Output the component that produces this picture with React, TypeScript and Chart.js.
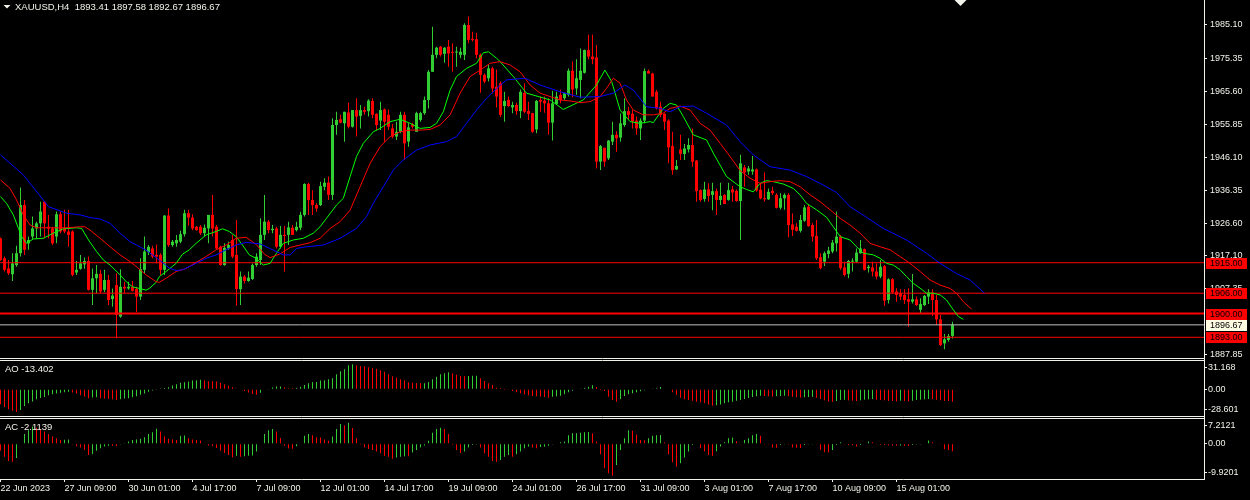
import React, { useEffect, useRef } from "react";
import { Chart, registerables } from "chart.js";

Chart.register(...registerables);

// ---------------- data ----------------
const OPEN = [
  1922.2, 1916.3, 1913.3, 1911.6, 1914.3, 1917.8, 1932.0, 1920.7, 1922.7, 1925.1,
  1926.6, 1933.0, 1925.6, 1925.1, 1922.7, 1929.3, 1925.1, 1924.2, 1924.2, 1912.1,
  1913.2, 1914.5, 1915.5, 1907.0, 1910.4, 1911.7, 1907.0, 1909.9, 1904.3, 1908.4,
  1899.1, 1907.9, 1907.4, 1907.9, 1907.3, 1905.0, 1912.9, 1918.1, 1919.2, 1917.3,
  1917.3, 1912.9, 1928.9, 1920.2, 1920.7, 1921.2, 1923.4, 1929.6, 1928.3, 1925.6,
  1925.6, 1923.7, 1925.1, 1929.1, 1925.6, 1919.7, 1914.3, 1919.2, 1921.7, 1917.3,
  1907.2, 1910.9, 1909.6, 1910.2, 1914.3, 1915.8, 1923.2, 1927.1, 1924.6, 1925.1,
  1919.7, 1923.2, 1923.2, 1925.3, 1924.6, 1925.3, 1929.1, 1938.2, 1933.5, 1932.0,
  1932.0, 1937.4, 1938.6, 1935.0, 1955.6, 1957.3, 1956.1, 1959.3, 1955.1, 1960.0,
  1958.3, 1960.0, 1959.7, 1962.7, 1958.9, 1956.9, 1960.2, 1958.6, 1954.6, 1952.2,
  1953.6, 1958.6, 1950.7, 1955.8, 1953.6, 1957.1, 1959.1, 1963.0, 1971.3, 1976.3,
  1978.7, 1976.6, 1978.7, 1977.2, 1977.0, 1976.3, 1976.3, 1985.1, 1980.9, 1980.9,
  1976.3, 1970.4, 1969.4, 1972.3, 1966.9, 1967.9, 1961.2, 1963.0, 1960.8, 1961.5,
  1959.7, 1965.1, 1959.7, 1959.1, 1954.3, 1963.0, 1962.8, 1962.0, 1956.3, 1961.8,
  1964.5, 1963.5, 1964.5, 1971.6, 1966.4, 1968.9, 1971.0, 1977.7, 1975.8, 1975.5,
  1944.8, 1948.9, 1945.8, 1950.7, 1952.7, 1951.9, 1955.6, 1959.7, 1958.9, 1956.9,
  1954.6, 1956.9, 1971.5, 1970.8, 1965.4, 1961.0, 1958.9, 1956.9, 1949.4, 1942.5,
  1948.4, 1947.1, 1948.4, 1949.7, 1945.1, 1936.4, 1933.8, 1936.6, 1935.0, 1936.1,
  1933.5, 1935.0, 1933.5, 1936.6, 1936.2, 1933.2, 1943.1, 1941.9, 1941.9, 1942.5,
  1936.5, 1934.0, 1933.7, 1936.2, 1935.0, 1931.2, 1934.0, 1935.0, 1926.3, 1925.6,
  1924.4, 1927.4, 1931.5, 1926.1, 1922.9, 1916.6, 1915.3, 1917.6, 1918.3, 1920.7,
  1922.7, 1913.6, 1911.7, 1915.3, 1915.3, 1917.8, 1919.0, 1913.4, 1913.6, 1912.4,
  1910.9, 1914.0, 1904.0, 1910.1, 1906.5, 1906.0, 1905.5, 1904.2, 1903.5, 1904.2,
  1901.1, 1902.5, 1905.0, 1906.2, 1904.0, 1898.3, 1891.2, 1892.2, 1893.41,
];
const HIGH = [
  1922.4, 1916.8, 1915.8, 1917.8, 1920.0, 1937.2, 1933.5, 1922.7, 1928.6, 1927.1,
  1933.0, 1933.2, 1929.1, 1925.6, 1930.1, 1930.1, 1930.6, 1930.6, 1924.6, 1915.5,
  1917.3, 1916.5, 1916.8, 1913.3, 1914.3, 1912.9, 1912.9, 1911.4, 1907.4, 1911.9,
  1913.1, 1909.4, 1909.4, 1909.6, 1907.9, 1916.3, 1922.7, 1920.2, 1920.0, 1920.4,
  1917.8, 1929.0, 1931.0, 1921.7, 1923.2, 1924.4, 1930.6, 1930.6, 1929.3, 1925.8,
  1926.1, 1926.3, 1929.1, 1935.0, 1926.1, 1920.0, 1920.7, 1921.2, 1923.2, 1927.6,
  1912.4, 1911.4, 1912.4, 1914.8, 1917.8, 1928.1, 1935.0, 1927.6, 1926.1, 1925.6,
  1925.8, 1925.8, 1927.1, 1926.1, 1927.1, 1930.0, 1938.4, 1938.6, 1936.4, 1932.5,
  1938.9, 1939.9, 1940.4, 1957.6, 1959.5, 1958.6, 1959.5, 1962.2, 1960.0, 1963.5,
  1961.5, 1961.0, 1963.2, 1963.5, 1959.1, 1962.5, 1960.5, 1960.2, 1955.9, 1956.6,
  1959.5, 1959.5, 1956.1, 1956.3, 1959.5, 1959.5, 1964.0, 1971.8, 1984.6, 1978.7,
  1978.9, 1978.5, 1980.7, 1979.7, 1978.7, 1978.4, 1985.6, 1987.6, 1983.1, 1982.8,
  1976.7, 1970.8, 1973.3, 1972.8, 1972.0, 1968.4, 1965.4, 1964.0, 1962.5, 1962.2,
  1966.1, 1967.9, 1962.5, 1959.2, 1963.0, 1964.0, 1964.0, 1963.5, 1965.7, 1965.4,
  1966.1, 1965.1, 1972.3, 1974.3, 1975.0, 1978.2, 1977.9, 1982.2, 1982.2, 1979.2,
  1949.7, 1948.9, 1951.2, 1956.6, 1953.8, 1959.0, 1963.5, 1961.0, 1960.0, 1958.1,
  1957.6, 1972.3, 1972.0, 1971.0, 1965.9, 1962.5, 1959.1, 1957.3, 1953.6, 1945.3,
  1952.7, 1950.0, 1951.7, 1954.6, 1945.3, 1936.6, 1938.9, 1938.4, 1938.6, 1936.9,
  1938.6, 1935.2, 1938.6, 1937.6, 1936.6, 1946.8, 1943.8, 1943.5, 1946.5, 1942.8,
  1938.4, 1941.6, 1936.9, 1937.4, 1935.5, 1935.5, 1935.5, 1935.5, 1929.6, 1926.6,
  1929.1, 1932.0, 1932.3, 1926.6, 1927.6, 1917.8, 1918.3, 1919.7, 1921.7, 1930.1,
  1923.2, 1915.3, 1915.8, 1916.3, 1919.2, 1921.7, 1919.2, 1914.3, 1915.3, 1914.8,
  1915.8, 1914.3, 1910.4, 1910.4, 1907.5, 1907.2, 1907.2, 1907.5, 1911.7, 1905.0,
  1904.5, 1905.5, 1907.2, 1907.2, 1905.5, 1899.6, 1894.0, 1894.0, 1897.58,
];
const LOW = [
  1915.6, 1912.4, 1911.4, 1909.6, 1913.8, 1916.8, 1917.3, 1918.8, 1922.0, 1922.2,
  1922.7, 1922.2, 1922.2, 1920.2, 1920.7, 1923.7, 1923.7, 1919.7, 1911.0, 1911.4,
  1912.9, 1913.2, 1906.8, 1902.5, 1906.0, 1906.0, 1906.3, 1902.5, 1902.0, 1892.7,
  1898.8, 1906.0, 1907.0, 1906.5, 1900.4, 1904.0, 1911.9, 1917.3, 1916.3, 1914.8,
  1911.4, 1911.4, 1919.7, 1919.7, 1919.7, 1920.7, 1922.7, 1925.9, 1924.6, 1924.4,
  1923.2, 1922.7, 1920.7, 1922.7, 1918.8, 1914.1, 1914.1, 1918.8, 1916.3, 1902.3,
  1902.5, 1908.9, 1909.4, 1909.9, 1913.8, 1914.3, 1921.7, 1923.7, 1923.7, 1919.2,
  1919.2, 1912.4, 1920.2, 1923.2, 1924.2, 1924.6, 1928.6, 1929.1, 1929.1, 1930.0,
  1931.7, 1936.4, 1933.5, 1933.5, 1952.7, 1956.1, 1950.7, 1954.6, 1954.9, 1952.2,
  1954.6, 1958.6, 1958.1, 1957.6, 1954.1, 1954.1, 1950.7, 1954.1, 1951.7, 1951.2,
  1953.2, 1945.3, 1949.2, 1954.6, 1953.6, 1956.6, 1958.6, 1960.5, 1971.3, 1975.3,
  1975.8, 1974.0, 1972.8, 1971.3, 1972.8, 1975.3, 1974.8, 1979.7, 1980.2, 1975.3,
  1965.1, 1967.9, 1968.4, 1964.9, 1960.8, 1958.0, 1956.6, 1961.0, 1959.1, 1958.6,
  1957.6, 1959.1, 1957.1, 1953.3, 1953.2, 1959.5, 1959.2, 1952.7, 1951.0, 1961.5,
  1962.0, 1963.0, 1964.0, 1963.8, 1964.5, 1963.5, 1970.8, 1975.0, 1973.5, 1942.8,
  1942.3, 1943.3, 1945.3, 1949.7, 1947.7, 1950.7, 1955.1, 1957.1, 1954.6, 1952.7,
  1951.2, 1956.1, 1970.7, 1964.0, 1960.2, 1957.9, 1954.1, 1944.3, 1940.9, 1942.3,
  1945.3, 1945.3, 1947.5, 1943.3, 1933.0, 1933.0, 1933.0, 1933.0, 1930.5, 1929.1,
  1932.0, 1932.3, 1933.3, 1933.0, 1933.0, 1921.7, 1937.4, 1940.9, 1940.9, 1935.9,
  1933.7, 1933.0, 1933.5, 1935.0, 1931.0, 1930.7, 1930.6, 1922.5, 1922.9, 1924.2,
  1923.9, 1927.1, 1925.6, 1921.2, 1915.8, 1913.1, 1914.0, 1916.3, 1917.8, 1918.3,
  1912.9, 1910.9, 1910.4, 1912.4, 1915.0, 1917.6, 1912.7, 1912.1, 1910.9, 1910.1,
  1910.4, 1902.2, 1903.0, 1905.8, 1903.5, 1904.0, 1902.8, 1896.1, 1903.0, 1902.2,
  1900.1, 1902.2, 1902.8, 1899.3, 1896.6, 1890.4, 1889.5, 1891.7, 1892.67,
];
const CLOSE = [
  1915.8, 1912.9, 1911.9, 1914.8, 1917.8, 1932.0, 1918.8, 1921.7, 1925.1, 1926.6,
  1930.1, 1926.6, 1925.1, 1920.7, 1929.3, 1924.2, 1924.2, 1923.2, 1911.4, 1912.9,
  1914.8, 1915.5, 1907.0, 1910.4, 1911.7, 1906.5, 1909.9, 1904.0, 1905.3, 1899.6,
  1907.9, 1907.4, 1907.9, 1906.7, 1905.0, 1913.1, 1918.3, 1919.7, 1916.8, 1916.8,
  1912.9, 1928.9, 1920.2, 1921.2, 1921.7, 1923.4, 1929.6, 1928.3, 1925.1, 1924.6,
  1923.7, 1925.3, 1929.1, 1925.1, 1919.2, 1914.3, 1919.4, 1920.2, 1916.8, 1907.2,
  1910.9, 1909.6, 1910.6, 1914.3, 1916.8, 1923.2, 1927.1, 1924.6, 1925.0, 1919.7,
  1923.2, 1922.9, 1925.4, 1923.2, 1925.6, 1929.1, 1938.2, 1933.5, 1932.0, 1931.0,
  1937.6, 1938.6, 1935.0, 1955.6, 1957.1, 1956.3, 1959.5, 1955.1, 1960.0, 1958.1,
  1960.0, 1959.5, 1962.8, 1958.6, 1955.6, 1960.0, 1956.6, 1955.1, 1952.2, 1953.6,
  1958.6, 1950.2, 1954.9, 1955.1, 1959.1, 1959.1, 1963.0, 1971.3, 1976.3, 1978.4,
  1976.3, 1978.4, 1976.7, 1976.9, 1977.2, 1977.2, 1985.1, 1980.7, 1980.7, 1976.3,
  1970.4, 1968.4, 1972.3, 1966.4, 1964.0, 1958.6, 1962.7, 1961.2, 1961.5, 1959.7,
  1965.4, 1959.5, 1958.9, 1953.6, 1962.7, 1962.5, 1962.0, 1956.3, 1962.0, 1964.0,
  1963.0, 1965.0, 1971.6, 1966.1, 1969.4, 1971.6, 1977.7, 1975.8, 1975.0, 1944.8,
  1949.4, 1944.8, 1951.0, 1952.7, 1951.7, 1956.1, 1959.7, 1958.6, 1956.6, 1954.6,
  1956.9, 1971.5, 1970.8, 1964.0, 1960.5, 1958.6, 1956.6, 1949.0, 1942.3, 1943.5,
  1947.1, 1948.7, 1949.7, 1944.8, 1936.1, 1933.5, 1936.6, 1934.7, 1936.1, 1933.5,
  1934.7, 1932.3, 1936.4, 1935.7, 1933.2, 1944.3, 1941.6, 1942.8, 1942.5, 1936.3,
  1934.0, 1933.7, 1935.9, 1935.5, 1931.2, 1934.0, 1935.0, 1926.1, 1924.7, 1924.4,
  1927.6, 1931.3, 1925.8, 1922.7, 1916.3, 1913.4, 1917.8, 1918.6, 1920.9, 1922.7,
  1913.4, 1911.4, 1915.5, 1915.5, 1918.0, 1919.2, 1912.9, 1913.8, 1912.4, 1910.9,
  1913.8, 1903.8, 1910.1, 1906.2, 1905.5, 1905.0, 1904.0, 1903.5, 1904.2, 1902.5,
  1902.8, 1905.2, 1906.2, 1904.0, 1898.3, 1890.7, 1892.4, 1893.4, 1896.67,
];

// Alligator lines, read as [bar index, price] samples
const JAW: [number, number][] = [
  [0, 1946.8], [5.7, 1940.9], [10.7, 1933.5], [12, 1931.5], [16.5, 1929.6], [19.9, 1929.1],
  [22.4, 1928.3], [24.9, 1927.9], [27.4, 1926.6], [29.9, 1923.7], [32.4, 1921.2], [36.4, 1918.7],
  [39.7, 1915.8], [42.2, 1913.4], [43.9, 1912.7], [45.5, 1912.9], [48, 1914.3], [51.4, 1916.3],
  [53.9, 1917.3], [56.4, 1918.8], [58.9, 1920.2], [61.4, 1921.0], [65, 1920.5], [68.2, 1918.7],
  [70.7, 1917.3], [72.4, 1917.3], [74, 1919.2], [76.5, 1919.7], [80.7, 1920.2], [84.9, 1922.2],
  [89, 1925.1], [91.5, 1928.6], [93.2, 1932.5], [95.7, 1937.4], [98.2, 1942.3], [100.7, 1945.3],
  [104, 1948.2], [107.4, 1949.7], [111.5, 1950.7], [114, 1952.2], [116.5, 1956.1], [119, 1960.0],
  [121.5, 1963.5], [124.9, 1967.3], [126.5, 1968.9], [131.1, 1969.4], [134.9, 1967.4], [139.9, 1965.4],
  [144.9, 1963.8], [149.9, 1964.0], [153.2, 1965.0], [156.1, 1967.4], [158.2, 1965.9], [161.5, 1961.0],
  [164.9, 1960.5], [167.4, 1959.5], [169.9, 1961.0], [173.2, 1961.2], [176.5, 1959.1], [181.5, 1955.6],
  [184.9, 1950.7], [188.2, 1946.8], [192.4, 1943.3], [197.4, 1942.3], [201.5, 1940.4], [205.7, 1937.9],
  [209, 1935.7], [212.4, 1931.5], [216.5, 1928.4], [220.7, 1925.1], [226.5, 1921.7], [231.5, 1917.8],
  [234.9, 1914.8], [239, 1911.8], [242.4, 1909.9], [246, 1906.0],
];
const TEETH: [number, number][] = [
  [0, 1939.4], [2.4, 1936.9], [4, 1933.5], [5.7, 1929.1], [7.4, 1926.1], [9, 1925.3],
  [12.4, 1925.3], [16.5, 1925.3], [19.9, 1925.6], [21.1, 1925.6], [22.4, 1924.6], [24.9, 1922.2],
  [27.4, 1919.7], [29.9, 1917.3], [32.4, 1915.3], [33.9, 1913.9], [36.4, 1911.4], [38.9, 1909.4],
  [39.7, 1909.2], [41.4, 1910.4], [43.9, 1912.4], [46.4, 1913.3], [48.9, 1915.1], [51.4, 1916.8],
  [53.9, 1918.8], [56.4, 1920.2], [58.9, 1922.2], [61.4, 1922.5], [63.9, 1920.4], [66, 1917.5],
  [67.4, 1916.5], [69.9, 1917.6], [72.4, 1919.5], [74.9, 1920.2], [77.4, 1920.9], [79.9, 1922.2],
  [82.4, 1925.1], [84.9, 1927.1], [87.4, 1930.5], [89.9, 1937.4], [92.4, 1944.3], [94.9, 1949.2],
  [97.4, 1952.2], [99.9, 1953.6], [102.4, 1954.1], [104.9, 1954.1], [107.4, 1954.3], [109.9, 1955.6],
  [112.4, 1958.6], [114.9, 1965.0], [117.4, 1969.9], [119.9, 1971.8], [122.4, 1973.8], [124.9, 1974.3],
  [127.4, 1973.3], [129.9, 1971.3], [132.4, 1967.4], [134.9, 1965.0], [137.4, 1964.0], [139.9, 1963.0],
  [142.4, 1962.7], [144.9, 1962.2], [147.4, 1962.5], [149.9, 1964.0], [151.5, 1966.4], [153.2, 1969.4],
  [154.9, 1967.9], [156.5, 1963.0], [158.2, 1960.0], [160.7, 1958.6], [163.2, 1958.6], [165.7, 1959.1],
  [167.4, 1960.5], [169.9, 1961.2], [172.4, 1960.0], [174.9, 1956.1], [177.4, 1954.1], [179.9, 1950.2],
  [182.4, 1946.3], [184.9, 1942.2], [187.4, 1939.9], [189.9, 1938.4], [192.4, 1938.9], [194.9, 1939.2],
  [197.4, 1938.9], [199.9, 1937.4], [202.4, 1935.0], [204.9, 1933.0], [207.4, 1930.6], [209.9, 1928.1],
  [212.4, 1926.1], [214.9, 1923.7], [217.4, 1920.7], [219.9, 1919.7], [222.4, 1918.8], [224.9, 1916.8],
  [227.4, 1914.8], [229.9, 1912.4], [232.4, 1909.9], [234.9, 1908.4], [237.4, 1907.4], [239, 1906.0],
  [240.7, 1903.5], [242.8, 1901.3],
];
const LIPS: [number, number][] = [
  [0, 1934.5], [1.5, 1932.5], [3.2, 1929.1], [4.5, 1925.1], [5.3, 1922.7], [6.5, 1920.7],
  [8.2, 1922.0], [10.7, 1922.2], [13.2, 1923.7], [15.7, 1925.0], [19, 1925.3], [20.3, 1925.1],
  [22, 1921.7], [24, 1918.3], [25.7, 1915.8], [27.4, 1914.3], [29.9, 1911.4], [31.5, 1909.3],
  [33, 1907.9], [34.7, 1907.4], [36.4, 1906.9], [37.2, 1907.4], [38.9, 1909.2], [39.7, 1910.9],
  [41.4, 1912.4], [43.9, 1914.8], [45.5, 1917.5], [47.2, 1918.8], [48.9, 1920.7], [51.4, 1923.2],
  [53.9, 1924.2], [55.5, 1925.0], [57.2, 1924.2], [58.9, 1922.7], [60.5, 1920.2], [62.2, 1917.3],
  [63.9, 1916.3], [65.7, 1914.3], [67.4, 1914.8], [69, 1917.8], [70.7, 1920.7], [73.2, 1921.7],
  [75.7, 1922.2], [78.2, 1923.7], [79.9, 1925.6], [81.5, 1928.1], [84, 1932.0], [85.7, 1934.0],
  [87.4, 1940.4], [89, 1946.3], [90.7, 1950.2], [93.2, 1953.6], [94.9, 1954.6], [97.4, 1956.6],
  [99.9, 1957.3], [102.4, 1956.1], [104.9, 1954.6], [107.4, 1954.9], [109, 1956.1], [110.7, 1959.5],
  [112.4, 1965.9], [114, 1969.9], [116.5, 1972.3], [119, 1973.8], [120.7, 1976.9], [122, 1977.2],
  [124, 1975.3], [124.9, 1974.3], [128.2, 1969.9], [131.5, 1965.0], [137.4, 1963.0], [140.7, 1960.2],
  [145.7, 1963.0], [149, 1967.4], [151.1, 1971.8], [152.8, 1968.4], [154.9, 1960.0], [157.4, 1956.6],
  [159.9, 1956.1], [162.4, 1956.6], [163.2, 1956.3], [165.7, 1960.5], [167.4, 1962.0], [169, 1961.5],
  [170.7, 1958.1], [173.2, 1952.7], [176.5, 1951.2], [178.2, 1947.3], [181.5, 1940.4], [184.9, 1937.4],
  [186.5, 1936.6], [188.2, 1935.9], [189.9, 1938.4], [191.5, 1939.2], [193.2, 1938.9], [195.7, 1938.2],
  [198.2, 1936.9], [199.9, 1935.0], [201.5, 1932.5], [204, 1930.6], [206.5, 1928.4], [208.2, 1925.6],
  [209.9, 1922.7], [212.4, 1921.7], [214, 1919.7], [215.7, 1917.8], [218.2, 1917.3], [219.9, 1916.3],
  [221.5, 1914.8], [223.2, 1914.3], [224.9, 1912.9], [226.5, 1910.9], [228.2, 1908.9], [229.9, 1907.5],
  [231.5, 1906.0], [233.2, 1906.0], [234.9, 1905.5], [236.5, 1904.0], [238.2, 1901.1], [239.5, 1899.1],
  [240.7, 1898.3],
];

const AO_VALUES = [
  -16.0, -18.9, -21.3, -23.1, -24.2, -22.1, -17.8, -14.9, -13.2, -10.7,
  -9.3, -8.2, -6.4, -5.3, -4.6, -3.9, -3.2, -2.8, -3.6, -4.6,
  -6.4, -7.8, -9.6, -8.9, -8.5, -9.6, -10.0, -10.3, -10.7, -11.4,
  -10.7, -10.0, -9.6, -8.5, -7.5, -6.0, -4.6, -2.8, -1.4, -0.4,
  0.7, 1.4, 2.1, 3.9, 5.3, 6.8, 7.5, 8.2, 9.3, 9.6,
  10.0, 9.3, 8.5, 8.4, 8.2, 6.8, 5.3, 3.6, 2.1, 0.7,
  -0.7, -1.8, -3.6, -5.0, -6.0, -3.9, -0.7, -0.4, 1.8, 2.8,
  2.9, 2.1, 1.1, 1.0, 1.4, 2.5, 4.6, 6.4, 7.5, 7.8,
  9.3, 9.6, 10.7, 11.7, 16.0, 19.2, 21.3, 25.6, 26.7, 25.6,
  24.9, 24.5, 23.5, 22.4, 21.7, 20.3, 18.5, 16.0, 13.9, 12.1,
  10.7, 9.6, 7.5, 6.8, 6.4, 6.3, 6.4, 7.8, 10.7, 13.2,
  16.0, 17.1, 18.1, 17.1, 15.3, 14.2, 13.9, 14.2, 14.3, 14.4,
  11.6, 8.8, 6.3, 4.5, 1.6, 0.9, -0.1, -0.9, -1.9, -3.3,
  -4.4, -5.5, -6.5, -7.3, -7.6, -8.0, -8.3, -9.0, -8.0, -7.6,
  -6.9, -5.5, -3.3, -1.6, -0.5, 0.2, 1.3, 2.7, 4.1, 2.3,
  -0.1, -1.9, -8.0, -11.5, -13.3, -10.5, -7.3, -5.5, -4.4, -3.3,
  -2.3, -1.2, -0.5, 0.2, 0.9, 2.3, 0.6, -0.5, -3.3, -6.2,
  -9.0, -10.8, -11.5, -12.2, -13.3, -14.0, -14.7, -16.2, -17.6, -17.2,
  -16.2, -15.1, -14.0, -13.3, -12.2, -11.5, -10.5, -9.4, -8.3, -7.6,
  -6.9, -7.3, -7.6, -8.0, -7.6, -7.3, -6.9, -7.6, -8.0, -8.7,
  -9.0, -8.7, -8.3, -8.0, -9.0, -10.5, -11.9, -13.0, -13.3, -12.6,
  -11.5, -11.2, -11.9, -12.2, -12.6, -11.9, -11.2, -10.8, -10.5, -11.2,
  -11.5, -11.9, -12.2, -12.6, -13.0, -12.2, -12.6, -13.0, -12.2, -11.5,
  -11.2, -10.8, -10.5, -10.8, -11.2, -11.9, -12.2, -12.6, -13.402,
];
// colour runs of the AO histogram as seen (G = rising, R = falling)
const AO_COLOR_RUNS: [string, number][] = [
  ["R", 5], ["G", 13], ["R", 5], ["G", 2], ["R", 5], ["G", 21], ["R", 14], ["G", 6], ["R", 3],
  ["G", 15], ["R", 17], ["G", 7], ["R", 4], ["G", 3], ["R", 18], ["G", 11], ["R", 6], ["G", 11],
  ["R", 13], ["G", 12], ["R", 3], ["G", 3], ["R", 4], ["G", 3], ["R", 5], ["G", 3], ["R", 3],
  ["G", 4], ["R", 6], ["G", 1], ["R", 2], ["G", 5], ["R", 6],
];

const AC_VALUES = [
  -2.0, -3.7, -4.9, -5.1, -4.0, 0.1, 2.7, 3.8, 4.8, 4.5,
  4.0, 3.4, 2.7, 2.0, 1.5, 1.0, 1.1, 1.2, -0.1, -0.7,
  -1.1, -1.8, -3.2, -2.9, -2.0, -1.3, -0.8, -0.56, -0.6, -0.7,
  -0.2, 0.05, 0.6, 1.0, 1.2, 1.4, 1.8, 2.7, 3.2, 4.2,
  3.4, 2.0, 1.4, 1.2, 1.0, 2.2, 2.3, 1.5, 1.2, 1.0,
  0.9, -0.1, -0.5, -0.7, -1.2, -2.0, -2.6, -3.2, -3.8, -3.4,
  -3.7, -3.5, -3.4, -3.3, -2.2, 0.1, 2.7, 3.8, 4.1, 3.4,
  1.6, -0.6, -1.3, -1.4, -0.7, 0.1, 2.2, 2.7, 2.4, 1.8,
  1.75, 1.2, 0.8, 2.0, 4.1, 5.5, 5.2, 5.9, 4.4, 1.6,
  -0.05, -1.0, -1.5, -1.8, -2.2, -2.7, -3.4, -3.7, -4.2, -3.9,
  -3.7, -3.5, -3.55, -2.5, -1.8, -1.1, -0.5, 0.8, 3.1, 4.1,
  4.5, 4.1, 2.7, -0.3, -1.8, -2.6, -2.2, -1.1, -0.4, -0.2,
  -1.1, -2.7, -3.7, -4.9, -5.1, -4.6, -3.7, -3.2, -3.7, -3.0,
  -2.2, -1.3, -0.8, -1.1, -1.3, -0.9, -0.85, -0.6, -0.2, 0.1,
  0.4, 0.6, 2.4, 2.9, 2.95, 3.1, 3.2, 3.25, 2.9, 0.6,
  -3.0, -6.9, -8.3, -9.0, -6.0, -1.8, 1.5, 3.8, 3.6, 2.6,
  1.0, 0.95, 1.5, 2.2, 2.4, 2.45, 0.4, -3.0, -5.2, -6.5,
  -5.5, -3.9, -2.2, -0.4, -0.15, -1.3, -2.2, -3.2, -3.4, -2.1,
  -0.8, 0.4, 1.5, 1.7, 0.7, -0.2, 1.0, 1.5, 2.4, 2.7,
  2.2, -0.2, -0.25, -1.1, -1.15, -0.4, -0.2, -0.3, -1.1, -1.15,
  -1.2, -0.4, -0.2, -0.1, -0.2, -1.8, -2.4, -2.5, -1.8, -0.4,
  0.4, -0.2, -0.4, -0.45, -0.8, -0.4, 0.1, 0.6, 0.4, -0.2,
  -0.3, -0.4, -0.45, -0.55, -0.6, -0.5, -0.55, -0.65, -0.4, -0.2,
  -0.1, 0.1, 0.9, 0.4, 0.1, -0.2, -1.6, -1.8, -2.1139,
];
const AC_COLOR_RUNS: [string, number][] = [
  ["R", 4], ["G", 5], ["R", 7], ["G", 2], ["R", 5], ["G", 5], ["R", 2], ["G", 10], ["R", 5],
  ["G", 2], ["R", 12], ["G", 1], ["R", 1], ["G", 8], ["R", 5], ["G", 4], ["R", 5], ["G", 3],
  ["R", 1], ["G", 1], ["R", 11], ["G", 3], ["R", 1], ["G", 8], ["R", 5], ["G", 4], ["R", 5],
  ["G", 3], ["R", 1], ["G", 4], ["R", 2], ["G", 13], ["R", 6], ["G", 4], ["R", 4], ["G", 4],
  ["R", 4], ["G", 5], ["R", 4], ["G", 5], ["R", 2], ["G", 4], ["R", 5], ["G", 2], ["R", 4],
  ["G", 3], ["R", 4], ["G", 3], ["R", 4], ["G", 3], ["R", 7], ["G", 1], ["R", 2], ["G", 5], ["R", 6],
];

const LEVELS = [1915.0, 1906.0, 1900.0, 1893.0];
const BID = 1896.67;
const PRICE_TICKS = [1985.1, 1975.35, 1965.6, 1955.85, 1946.1, 1936.35, 1926.6, 1917.1, 1907.35, 1887.85];
const AO_TICK_LABELS = ["31.168", "0.00", "-28.601"];
const AC_TICK_LABELS = ["7.2121", "0.00", "-9.9201"];
const DATE_TICK_BARS = [0, 16, 32, 48, 64, 80, 96, 112, 128, 144, 160, 176, 192, 208, 224];
const DATE_LABELS = [
  "22 Jun 2023", "27 Jun 09:00", "30 Jun 01:00", "4 Jul 17:00", "7 Jul 09:00",
  "12 Jul 01:00", "14 Jul 17:00", "19 Jul 09:00", "24 Jul 01:00", "26 Jul 17:00",
  "31 Jul 09:00", "3 Aug 01:00", "7 Aug 17:00", "10 Aug 09:00", "15 Aug 01:00",
];
const HEADER = "XAUUSD,H4  1893.41 1897.58 1892.67 1896.67";
const AO_TITLE = "AO -13.402";
const AC_TITLE = "AC -2.1139";

// ---------------- styling ----------------
const BULL = "#32cd32";
const BEAR = "#ff0000";
const FG = "#f2f2ea";
const FONT = '"Liberation Sans", Arial, sans-serif';

const expandRuns = (runs: [string, number][]) => {
  const out: string[] = [];
  runs.forEach(([c, n]) => { for (let k = 0; k < n; k++) out.push(c === "G" ? BULL : BEAR); });
  return out;
};

const overlay = {
  id: "mt4Overlay",
  beforeDraw(chart: any) {
    const { ctx, width, height } = chart;
    ctx.save();
    ctx.fillStyle = "#000";
    ctx.fillRect(0, 0, width, height);
    ctx.restore();
  },
  afterDraw(chart: any) {
    const { ctx, chartArea } = chart;
    const sy = chart.scales.y, sao = chart.scales.yAO, sac = chart.scales.yAC, sx = chart.scales.x;
    ctx.save();
    // pane separators
    ctx.fillStyle = "#000";
    ctx.fillRect(chartArea.left, Math.round(sy.bottom) - 1, chartArea.right - chartArea.left, 3);
    ctx.fillRect(chartArea.left, Math.round(sao.bottom) - 1, chartArea.right - chartArea.left, 3);
    ctx.strokeStyle = FG;
    ctx.lineWidth = 1;
    const hl = (y: number) => {
      ctx.beginPath();
      ctx.moveTo(chartArea.left, y);
      ctx.lineTo(chartArea.right + 1, y);
      ctx.stroke();
    };
    hl(Math.round(sy.bottom) - 0.5);
    hl(Math.round(sao.top) + 1.5);
    hl(Math.round(sao.bottom) - 0.5);
    hl(Math.round(sac.top) + 1.5);

    // price tags on the right axis
    ctx.font = `9px ${FONT}`;
    ctx.textBaseline = "middle";
    ctx.textAlign = "left";
    const tag = (value: number, bg: string, fg: string) => {
      const y = Math.round(sy.getPixelForValue(value));
      ctx.fillStyle = bg;
      ctx.fillRect(chartArea.right + 2, y - 5, 41, 11);
      ctx.fillStyle = fg;
      ctx.fillText(value.toFixed(2), chartArea.right + 6, y + 0.5);
    };
    LEVELS.forEach((v) => tag(v, "#ff0000", "#000"));
    tag(BID, "#fffbe2", "#000");

    // header and sub-window titles
    ctx.fillStyle = FG;
    ctx.font = `9.5px ${FONT}`;
    ctx.fillText(HEADER, 15, 7.5);
    ctx.fillText(AO_TITLE, 5, Math.round(sao.top) + 10.5);
    ctx.fillText(AC_TITLE, 5, Math.round(sac.top) + 10.5);
    // small triangles
    ctx.beginPath();
    ctx.moveTo(3.5, 5); ctx.lineTo(10.5, 5); ctx.lineTo(7, 8.5); ctx.closePath(); ctx.fill();
    const sxPix = sx.getPixelForValue(240);
    ctx.beginPath();
    ctx.moveTo(sxPix - 6, 0); ctx.lineTo(sxPix + 6, 0); ctx.lineTo(sxPix, 6); ctx.closePath(); ctx.fill();
    ctx.restore();
  },
};

// scale geometry (pixels of the reference)
const MAIN_MAX = 1992.47, MAIN_MIN = 1886.6;
const AO_MAX = 32.24, AO_MIN = -29.67;
const AC_MAX = 7.49, AC_MIN = -9.9201;

export default function App() {
  const ref = useRef<HTMLCanvasElement>(null);
  useEffect(() => {
    const canvas = ref.current;
    if (!canvas) return;
    Chart.defaults.font.family = FONT;

    const isUp = OPEN.map((o, i) => CLOSE[i] >= o);
    const candleColors = isUp.map((u) => (u ? BULL : BEAR));

    const lineDs = (pts: [number, number][], color: string) => ({
      type: "line" as const,
      data: pts.map(([x, y]) => ({ x, y })),
      borderColor: color,
      borderWidth: 1,
      pointRadius: 0,
      tension: 0,
      yAxisID: "y",
      order: 1,
      clip: 0,
    });
    const levelDs = (v: number, color: string, w: number) => ({
      type: "line" as const,
      data: [{ x: -2, y: v }, { x: 320, y: v }],
      borderColor: color,
      borderWidth: w,
      pointRadius: 0,
      yAxisID: "y",
      order: 2,
      clip: 0,
    });

    const fitY = (w: number) => (s: any) => {
      s.width = w;
      s.paddingTop = 0;
      s.paddingBottom = 0;
    };
    const yCommon = {
      type: "linear" as const,
      position: "right" as const,
      stack: "panes",
      grid: { drawOnChartArea: false, drawTicks: true, tickLength: 3, color: FG },
      border: { display: true, color: FG },
    };

    const chart = new Chart(canvas, {
      type: "bar",
      data: {
        datasets: [
          {
            data: LOW.map((l, i) => ({ x: i, y: [l, HIGH[i]] })),
            backgroundColor: candleColors,
            barThickness: 1,
            grouped: false,
            inflateAmount: 0,
            borderWidth: 0,
            yAxisID: "y",
            order: 5,
          } as any,
          {
            data: OPEN.map((o, i) => ({ x: i, y: [o, CLOSE[i]] })),
            backgroundColor: candleColors,
            barThickness: 3,
            minBarLength: 1,
            grouped: false,
            inflateAmount: 0,
            borderWidth: 0,
            yAxisID: "y",
            order: 4,
          } as any,
          levelDs(LEVELS[0], "#ff0000", 1),
          levelDs(LEVELS[1], "#ff0000", 1),
          levelDs(LEVELS[2], "#ff0000", 2),
          levelDs(LEVELS[3], "#ff0000", 1),
          levelDs(BID, "#c0c0c0", 1),
          lineDs(JAW, "#0000ff"),
          lineDs(TEETH, "#ff0000"),
          lineDs(LIPS, "#00ff00"),
          {
            data: AO_VALUES.map((v, i) => ({ x: i, y: v })),
            backgroundColor: expandRuns(AO_COLOR_RUNS),
            barThickness: 1,
            grouped: false,
            inflateAmount: 0,
            borderWidth: 0,
            yAxisID: "yAO",
            order: 3,
          } as any,
          {
            data: AC_VALUES.map((v, i) => ({ x: i, y: v })),
            backgroundColor: expandRuns(AC_COLOR_RUNS),
            barThickness: 1,
            grouped: false,
            inflateAmount: 0,
            borderWidth: 0,
            yAxisID: "yAC",
            order: 3,
          } as any,
        ],
      },
      options: {
        animation: false,
        responsive: false,
        devicePixelRatio: 1,
        events: [],
        layout: { padding: 0, autoPadding: false } as any,
        plugins: { legend: { display: false }, tooltip: { enabled: false } },
        scales: {
          x: {
            type: "linear",
            position: "bottom",
            min: -0.125,
            max: 300.875,
            offset: false,
            grid: { offset: false, drawOnChartArea: false, drawTicks: true, tickLength: 3, color: FG },
            border: { display: true, color: FG },
            ticks: {
              color: FG,
              font: { size: 9, family: FONT },
              align: "start",
              padding: 1,
              autoSkip: false,
              maxRotation: 0,
              minRotation: 0,
              callback: (_v: any, i: number) => DATE_LABELS[i],
            },
            afterBuildTicks: (s: any) => { s.ticks = DATE_TICK_BARS.map((v) => ({ value: v })); },
            afterFit: (s: any) => { s.height = 21; s.paddingLeft = 0; s.paddingRight = 0; },
          } as any,
          y: {
            ...yCommon,
            stackWeight: 359,
            min: MAIN_MIN,
            max: MAIN_MAX,
            ticks: {
              color: FG, font: { size: 9, family: FONT }, padding: 3, autoSkip: false,
              callback: (v: any) => Number(v).toFixed(2),
            },
            afterBuildTicks: (s: any) => { s.ticks = PRICE_TICKS.map((v) => ({ value: v })); },
            afterFit: fitY(46),
          } as any,
          yAO: {
            ...yCommon,
            stackWeight: 58,
            min: AO_MIN,
            max: AO_MAX,
            ticks: {
              color: FG, font: { size: 9, family: FONT }, padding: 1, autoSkip: false,
              callback: (_v: any, i: number) => AO_TICK_LABELS[i],
            },
            // labels sit just inside the pane, as in the terminal
            afterBuildTicks: (s: any) => {
              const per = (AO_MAX - AO_MIN) / 58;
              s.ticks = [{ value: AO_MAX - 8.7 * per }, { value: 0 }, { value: AO_MAX - 50.3 * per }];
            },
            afterFit: fitY(46),
          } as any,
          yAC: {
            ...yCommon,
            stackWeight: 62,
            min: AC_MIN,
            max: AC_MAX,
            ticks: {
              color: FG, font: { size: 9, family: FONT }, padding: 1, autoSkip: false,
              callback: (_v: any, i: number) => AC_TICK_LABELS[i],
            },
            afterBuildTicks: (s: any) => {
              const per = (AC_MAX - AC_MIN) / 62;
              s.ticks = [{ value: AC_MAX - 8.7 * per }, { value: 0 }, { value: AC_MAX - 55.7 * per }];
            },
            afterFit: fitY(46),
          } as any,
        },
      },
      plugins: [overlay],
    });
    return () => chart.destroy();
  }, []);

  return (
    <div style={{ position: "fixed", left: 0, top: 0, width: 1250, height: 500, background: "#000" }}>
      <canvas ref={ref} width={1250} height={500} style={{ display: "block", width: 1250, height: 500 }} />
    </div>
  );
}
